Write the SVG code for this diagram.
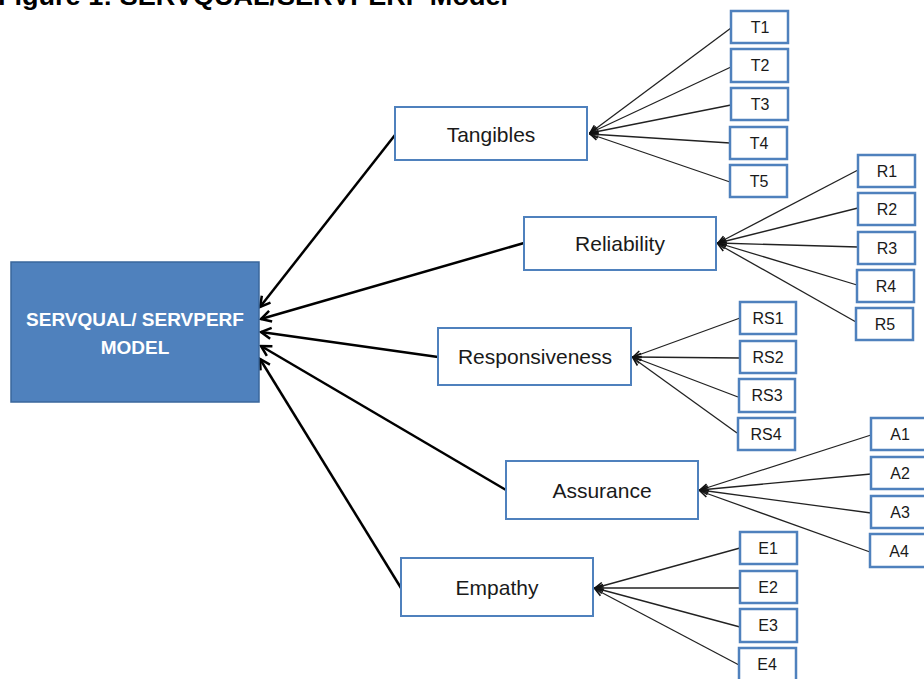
<svg xmlns="http://www.w3.org/2000/svg" width="924" height="679" viewBox="0 0 924 679">
<defs>
<style>
.title{font-family:"Liberation Sans",Arial,sans-serif;font-weight:bold;font-size:26px;fill:#000}
.main rect{fill:#4F81BD;stroke:#3A679C;stroke-width:1.5}
.main text{font-family:"Liberation Sans",Arial,sans-serif;font-weight:bold;font-size:19px;fill:#fff;text-anchor:middle}
.cat rect{fill:#fff;stroke:#4F81BD;stroke-width:2}
.cat text{font-family:"Liberation Sans",Arial,sans-serif;font-size:21px;fill:#1a1a1a;text-anchor:middle}
.item rect{fill:#fff;stroke:#4F81BD;stroke-width:2.5}
.item text{font-family:"Liberation Sans",Arial,sans-serif;font-size:16px;fill:#1a1a1a;text-anchor:middle}
.big{stroke:#000;stroke-width:2.5;fill:none;marker-end:url(#bigArrow)}
.thin{stroke:#222;stroke-width:1.3;fill:none;marker-end:url(#thinArrow)}
</style>
<marker id="bigArrow" viewBox="0 0 14 14" refX="12" refY="7" markerWidth="14" markerHeight="14" markerUnits="userSpaceOnUse" orient="auto">
<path d="M2,1.5 L12,7 L2,12.5" fill="none" stroke="#000" stroke-width="2.5"/>
</marker>
<marker id="thinArrow" viewBox="0 0 10 10" refX="9" refY="5" markerWidth="10" markerHeight="10" markerUnits="userSpaceOnUse" orient="auto">
<path d="M1,1.5 L9,5 L1,8.5" fill="none" stroke="#111" stroke-width="1.6"/>
</marker>
</defs>
<rect width="924" height="679" fill="#fff"/>
<text class="title" x="-2" y="5" textLength="510" lengthAdjust="spacingAndGlyphs">Figure 1: SERVQUAL/SERVPERF Model</text>

<g id="connectors">
<line class="big" x1="395" y1="135" x2="260" y2="307"/>
<line class="big" x1="524" y1="243" x2="261" y2="319"/>
<line class="big" x1="438" y1="357" x2="261" y2="332"/>
<line class="big" x1="506" y1="490" x2="261" y2="346"/>
<line class="big" x1="401" y1="588" x2="260" y2="359"/>

<line class="thin" x1="731" y1="28" x2="590" y2="133"/>
<line class="thin" x1="731" y1="67" x2="590" y2="133"/>
<line class="thin" x1="731" y1="105" x2="590" y2="133"/>
<line class="thin" x1="730" y1="143" x2="590" y2="134"/>
<line class="thin" x1="730" y1="182" x2="590" y2="134"/>

<line class="thin" x1="858" y1="170" x2="718" y2="243"/>
<line class="thin" x1="858" y1="208" x2="718" y2="243"/>
<line class="thin" x1="858" y1="247" x2="718" y2="243"/>
<line class="thin" x1="857" y1="285" x2="718" y2="243"/>
<line class="thin" x1="856" y1="322" x2="718" y2="244"/>

<line class="thin" x1="740" y1="318" x2="633" y2="357"/>
<line class="thin" x1="740" y1="358" x2="633" y2="357"/>
<line class="thin" x1="738" y1="397" x2="633" y2="357"/>
<line class="thin" x1="737" y1="433" x2="633" y2="358"/>

<line class="thin" x1="871" y1="435" x2="700" y2="490"/>
<line class="thin" x1="871" y1="474" x2="700" y2="490"/>
<line class="thin" x1="871" y1="513" x2="700" y2="490"/>
<line class="thin" x1="870" y1="552" x2="700" y2="491"/>

<line class="thin" x1="740" y1="548" x2="595" y2="588"/>
<line class="thin" x1="740" y1="588" x2="595" y2="588"/>
<line class="thin" x1="740" y1="627" x2="595" y2="588"/>
<line class="thin" x1="739" y1="665" x2="595" y2="589"/>
</g>

<g id="model" class="main">
<rect x="11" y="262" width="248" height="140"/>
<text x="135" y="326">SERVQUAL/ SERVPERF</text>
<text x="135" y="354">MODEL</text>
</g>

<g id="tangibles" class="cat"><rect x="395" y="107" width="192" height="53"/><text x="491" y="142">Tangibles</text></g>
<g id="reliability" class="cat"><rect x="524" y="217" width="192" height="53"/><text x="620" y="251">Reliability</text></g>
<g id="responsiveness" class="cat"><rect x="438" y="328" width="193" height="57"/><text x="535" y="364">Responsiveness</text></g>
<g id="assurance" class="cat"><rect x="506" y="461" width="192" height="58"/><text x="602" y="498">Assurance</text></g>
<g id="empathy" class="cat"><rect x="401" y="558" width="192" height="58"/><text x="497" y="595">Empathy</text></g>

<g id="T1" class="item"><rect x="731" y="11" width="57" height="32"/><text x="760" y="33">T1</text></g>
<g id="T2" class="item"><rect x="731" y="49" width="57" height="33"/><text x="760" y="71">T2</text></g>
<g id="T3" class="item"><rect x="731" y="88" width="57" height="32"/><text x="760" y="110">T3</text></g>
<g id="T4" class="item"><rect x="730" y="127" width="57" height="32"/><text x="759" y="149">T4</text></g>
<g id="T5" class="item"><rect x="730" y="165" width="57" height="32"/><text x="759" y="187">T5</text></g>

<g id="R1" class="item"><rect x="858" y="155" width="57" height="32"/><text x="887" y="177">R1</text></g>
<g id="R2" class="item"><rect x="858" y="193" width="57" height="32"/><text x="887" y="215">R2</text></g>
<g id="R3" class="item"><rect x="858" y="232" width="57" height="32"/><text x="887" y="254">R3</text></g>
<g id="R4" class="item"><rect x="857" y="270" width="57" height="32"/><text x="886" y="292">R4</text></g>
<g id="R5" class="item"><rect x="856" y="308" width="57" height="32"/><text x="885" y="330">R5</text></g>

<g id="RS1" class="item"><rect x="740" y="302" width="56" height="32"/><text x="768" y="324">RS1</text></g>
<g id="RS2" class="item"><rect x="740" y="341" width="56" height="32"/><text x="768" y="363">RS2</text></g>
<g id="RS3" class="item"><rect x="739" y="379" width="56" height="33"/><text x="767" y="401">RS3</text></g>
<g id="RS4" class="item"><rect x="738" y="418" width="57" height="32"/><text x="766" y="440">RS4</text></g>

<g id="A1" class="item"><rect x="871" y="418" width="60" height="32"/><text x="900" y="440">A1</text></g>
<g id="A2" class="item"><rect x="871" y="457" width="60" height="32"/><text x="900" y="479">A2</text></g>
<g id="A3" class="item"><rect x="871" y="496" width="60" height="32"/><text x="900" y="518">A3</text></g>
<g id="A4" class="item"><rect x="870" y="534" width="60" height="33"/><text x="899" y="557">A4</text></g>

<g id="E1" class="item"><rect x="740" y="532" width="57" height="32"/><text x="768" y="554">E1</text></g>
<g id="E2" class="item"><rect x="740" y="571" width="57" height="32"/><text x="768" y="593">E2</text></g>
<g id="E3" class="item"><rect x="740" y="609" width="57" height="33"/><text x="768" y="631">E3</text></g>
<g id="E4" class="item"><rect x="739" y="648" width="57" height="34"/><text x="767" y="670">E4</text></g>
</svg>
